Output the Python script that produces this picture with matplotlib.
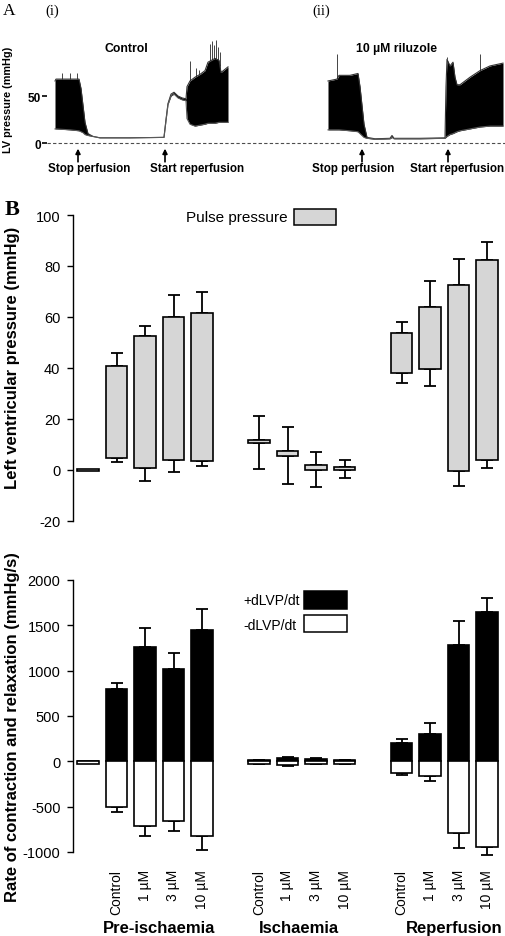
import numpy as np
import matplotlib
matplotlib.use("Agg")
import matplotlib.pyplot as plt
from matplotlib.patches import Rectangle
from matplotlib.transforms import blended_transform_factory

plt.rcParams["font.family"] = ["Liberation Sans", "DejaVu Sans"]
plt.rcParams["axes.unicode_minus"] = False

W, H = 505, 937

# ---- Panel A: LV pressure traces (envelopes) ----
ctrl_t = [8, 9, 23, 32, 34, 36, 38, 41, 46, 53, 83, 117, 119, 121, 124, 127, 131, 135, 139,
          140, 143, 148, 153, 158, 161, 168, 172, 174, 181]
ctrl_hi = [66, 68, 68, 68, 58, 40, 22, 10, 7, 5.5, 5.5, 6, 25, 42, 52, 54, 50, 48, 47,
           60, 66, 70, 73, 77, 86, 90, 88, 75, 81]
ctrl_lo = [15, 15, 14, 13, 12, 11, 9, 8, 7, 5.5, 5.5, 6, 24, 41, 50, 52, 48, 46, 45,
           26, 20, 18, 19, 20, 21, 21, 22, 22, 22]
ctrl_spk_t = [15, 23, 30, 143, 149, 152, 163, 165, 167, 169, 171, 173]
ctrl_spk_v = [75, 74, 74, 87, 80, 78, 105, 109, 104, 110, 102, 97]

rilu_t = [281, 290, 292, 303, 311, 313, 315, 317, 320, 328, 343, 345, 347, 373, 398,
          399, 400, 403, 406, 408, 410, 413, 423, 433, 443, 456]
rilu_hi = [66, 68, 72, 72, 74, 60, 40, 20, 6, 4.5, 5, 8, 5, 5, 5.5,
           60, 89, 82, 86, 70, 62, 62, 70, 77, 82, 85]
rilu_lo = [14, 14, 14, 13, 12, 10, 8, 6, 5, 4, 4.5, 6, 4.5, 4.5, 5,
           6, 7, 9, 10, 11, 12, 13, 15, 17, 18, 18]
rilu_spk_t = [290, 400, 433]
rilu_spk_v = [95, 92, 95]

# ---- Panel B data ----
groups = ["Pre-ischaemia", "Ischaemia", "Reperfusion"]
conditions = ["Control", "1 \u00b5M", "3 \u00b5M", "10 \u00b5M"]
bar_pos = [0, 1, 2, 3, 4, 6, 7, 8, 9, 11, 12, 13, 14]

# pulse pressure: floating bars (diastolic -> systolic), mmHg
pp_top = [0.4, 40.9, 52.7, 59.9, 61.6, 11.7, 7.6, 2.0, 1.1, 53.6, 63.8, 72.5, 82.5]
pp_bot = [-0.4, 4.7, 0.8, 3.9, 3.5, 10.6, 5.4, 0.0, -0.1, 37.9, 39.6, -0.3, 3.9]
pp_err_hi = [np.nan, 45.9, 56.6, 68.6, 69.9, 21.3, 16.9, 7.2, 3.9, 57.9, 74.2, 82.7, 89.3]
pp_err_lo = [np.nan, 3.0, -4.2, -0.7, 1.7, 0.4, -5.5, -6.8, -3.1, 34.0, 33.1, -6.2, 0.9]

# dLVP/dt, mmHg/s
dp_plus = [0, 794, 1263, 1023, 1446, 15, 35, 25, 10, 206, 306, 1288, 1649]
dp_plus_err = [np.nan, 865, 1476, 1196, 1678, 20, 50, 40, 15, 243, 419, 1545, 1796]
dp_minus = [-25, -507, -710, -655, -821, -25, -35, -25, -25, -127, -164, -791, -942]
dp_minus_err = [np.nan, -555, -821, -765, -979, -30, -50, -30, -30, -149, -212, -960, -1031]


def px_axes(fig, left, top, right, bottom):
    return fig.add_axes([left / W, 1 - bottom / H, (right - left) / W, (bottom - top) / H])


def fig_text(fig, x, y, s, **kw):
    fig.text(x / W, 1 - y / H, s, **kw)


def fig_box(fig, x0, y0, x1, y1, fc):
    fig.patches.append(Rectangle((x0 / W, 1 - y1 / H), (x1 - x0) / W, (y1 - y0) / H,
                                 transform=fig.transFigure, facecolor=fc,
                                 edgecolor="black", linewidth=1.1))


def draw_trace(ax, t, hi, lo, spk_t, spk_v):
    ax.fill_between(t, lo, hi, color="black", linewidth=0)
    ax.plot(t, hi, color="0.2", lw=0.8)
    ax.plot(t, lo, color="0.35", lw=0.8)
    top = np.interp(spk_t, t, hi)
    ax.vlines(spk_t, top, spk_v, color="0.15", lw=0.6)


def err(ax, x, y, target, cap=4):
    x = np.asarray(x, float)
    y = np.asarray(y, float)
    target = np.asarray(target, float)
    ok = ~np.isnan(target)
    d = target[ok] - y[ok]
    lower = np.where(d < 0, -d, 0)
    upper = np.where(d > 0, d, 0)
    eb = ax.errorbar(x[ok], y[ok], yerr=[lower, upper], fmt="none", ecolor="black",
                     elinewidth=1.3, capsize=cap, capthick=1.3, zorder=1)
    for art in eb.lines[1] + eb.lines[2]:
        art.set_clip_on(False)


def main():
    fig = plt.figure(figsize=(W / 100, H / 100), dpi=100)

    # ---------------- Panel A ----------------
    axA = px_axes(fig, 47, 30, 505, 185)
    axA.set_xlim(0, 458)
    axA.set_ylim(-43.6, 121.3)
    for s in axA.spines.values():
        s.set_visible(False)
    axA.set_xticks([])
    axA.set_yticks([0, 50])
    axA.set_yticklabels(["0", "50"], fontsize=8.5, fontweight="bold")
    axA.tick_params(axis="y", length=3.5, width=1.2, pad=1)
    axA.axhline(0, color="0.3", lw=0.8, ls=(0, (3, 2)))
    draw_trace(axA, ctrl_t, ctrl_hi, ctrl_lo, ctrl_spk_t, ctrl_spk_v)
    draw_trace(axA, rilu_t, rilu_hi, rilu_lo, rilu_spk_t, rilu_spk_v)
    axA.text(79, 101, "Control", ha="center", va="center", fontsize=8.8, fontweight="bold")
    axA.text(350, 101, "10 \u00b5M riluzole", ha="center", va="center", fontsize=8.8,
             fontweight="bold")
    for xa, xl, lab in [(31, 42, "Stop perfusion"), (118, 150, "Start reperfusion"),
                        (315, 306, "Stop perfusion"), (401, 410, "Start reperfusion")]:
        axA.annotate("", xy=(xa, -6), xytext=(xa, -20),
                     arrowprops=dict(arrowstyle="-|>", lw=1.2, color="black",
                                     mutation_scale=7, shrinkA=0, shrinkB=0))
        axA.text(xl, -27, lab, ha="center", va="center", fontsize=8.4, fontweight="bold")
    fig_text(fig, 8, 100, "LV pressure (mmHg)", rotation=90, ha="center", va="center",
             fontsize=7.8, fontweight="bold")
    serif = ["Liberation Serif", "DejaVu Serif"]
    fig_text(fig, 9, 11, "A", family=serif, fontsize=12.5, ha="center", va="center")
    fig_text(fig, 52, 11, "(i)", family=serif, fontsize=10.5, ha="center", va="center")
    fig_text(fig, 321, 11, "(ii)", family=serif, fontsize=10.5, ha="center", va="center")

    # ---------------- Panel B ----------------
    xl = ((73 - 88) / 28.5, (505 - 88) / 28.5)
    width = 0.77

    ax1 = px_axes(fig, 73, 216, 505, 522)
    ax2 = px_axes(fig, 73, 581, 505, 853)
    for ax in (ax1, ax2):
        ax.set_xlim(*xl)
        for side in ("top", "right", "bottom"):
            ax.spines[side].set_visible(False)
        ax.spines["left"].set_linewidth(1.0)
        ax.tick_params(axis="y", length=4, width=1.0, labelsize=10.5, pad=5)
        ax.tick_params(axis="x", length=0)

    pos = np.array(bar_pos, float)
    top = np.array(pp_top)
    bot = np.array(pp_bot)
    err(ax1, pos, top, pp_err_hi)
    err(ax1, pos, bot, pp_err_lo)
    ax1.bar(pos, top - bot, bottom=bot, width=width, color="#d6d6d6", edgecolor="black",
            linewidth=1.2, zorder=2)
    ax1.set_ylim(-20, 100)
    ax1.set_yticks([-20, 0, 20, 40, 60, 80, 100])
    ax1.set_xticks([])

    err(ax2, pos, dp_plus, dp_plus_err)
    err(ax2, pos, dp_minus, dp_minus_err)
    ax2.bar(pos, dp_plus, width=width, color="black", edgecolor="black", linewidth=1.2,
            zorder=2)
    ax2.bar(pos, dp_minus, width=width, color="white", edgecolor="black", linewidth=1.2,
            zorder=2)
    ax2.set_ylim(-1000, 2000)
    ax2.set_yticks([-1000, -500, 0, 500, 1000, 1500, 2000])
    ax2.set_xticks(bar_pos[1:])
    ax2.set_xticklabels(conditions * 3, rotation=90, fontsize=10, va="top")
    ax2.tick_params(axis="x", pad=12)

    trans = blended_transform_factory(ax2.transData, fig.transFigure)
    for gx, g in zip([2.5, 7.4, 12.85], groups):
        ax2.text(gx, 1 - 929 / H, g, transform=trans, ha="center", va="center",
                 fontsize=12, fontweight="bold", clip_on=False)

    # legends
    fig_text(fig, 288, 218, "Pulse pressure", ha="right", va="center", fontsize=11)
    fig_box(fig, 294, 210, 336, 226, "#d6d6d6")
    fig_text(fig, 300, 601, "+dLVP/dt", ha="right", va="center", fontsize=10)
    fig_box(fig, 304, 592, 347, 610, "black")
    fig_text(fig, 297, 626, "-dLVP/dt", ha="right", va="center", fontsize=10)
    fig_box(fig, 304, 616, 347, 633, "white")

    fig_text(fig, 13, 358, "Left ventricular pressure (mmHg)", rotation=90, ha="center",
             va="center", fontsize=12, fontweight="bold")
    fig_text(fig, 13, 727, "Rate of contraction and relaxation (mmHg/s)", rotation=90,
             ha="center", va="center", fontsize=12, fontweight="bold")
    fig_text(fig, 12, 210, "B", family=serif, fontsize=16, fontweight="bold",
             ha="center", va="center")

    fig.savefig("out.png", dpi=100)


if __name__ == "__main__":
    main()
